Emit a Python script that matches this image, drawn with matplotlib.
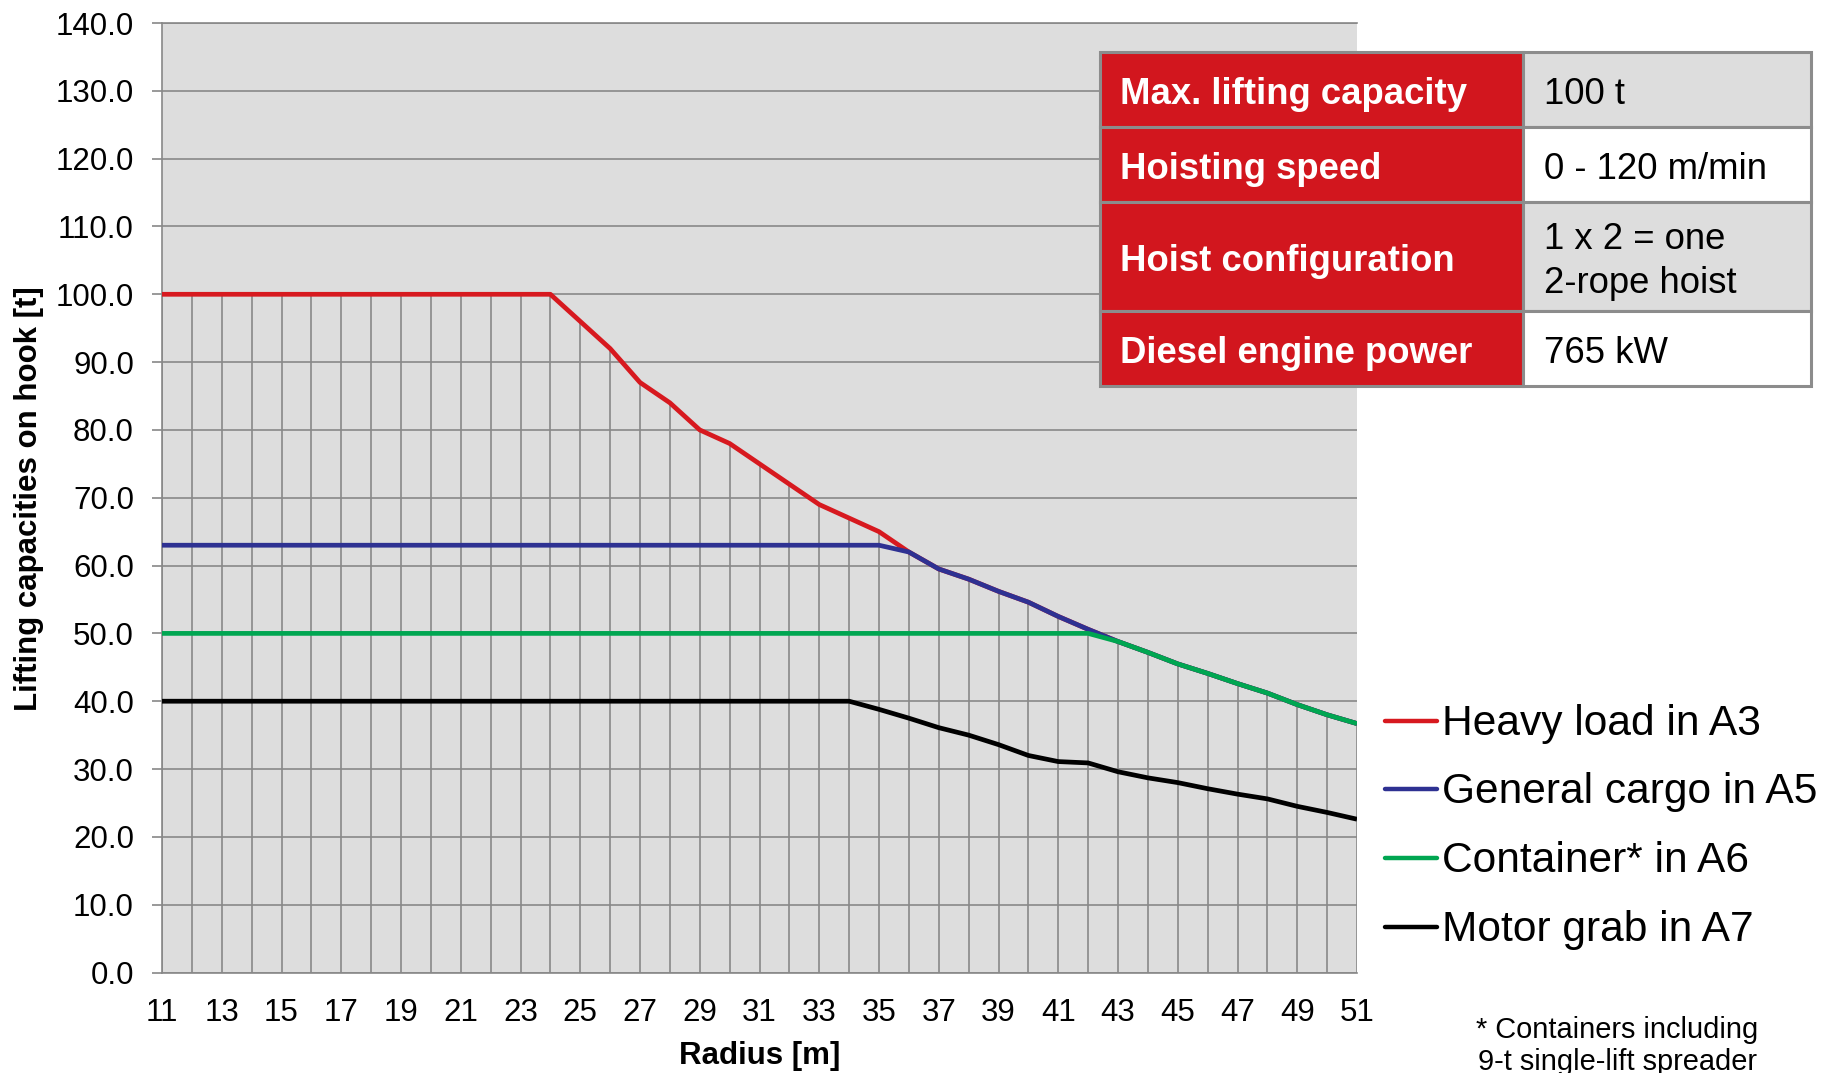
import matplotlib
matplotlib.use("Agg")
import matplotlib.pyplot as plt
from matplotlib.patches import Rectangle
from matplotlib.lines import Line2D

plt.rcParams['font.family'] = ['Liberation Sans', 'DejaVu Sans']

# ---------------- data ----------------
radius = [11, 12, 13, 14, 15, 16, 17, 18, 19, 20, 21, 22, 23, 24, 25, 26, 27, 28, 29, 30,
          31, 32, 33, 34, 35, 36, 37, 38, 39, 40, 41, 42, 43, 44, 45, 46, 47, 48, 49, 50, 51]

heavy_a3 = [100, 100, 100, 100, 100, 100, 100, 100, 100, 100, 100, 100, 100, 100,
            96, 92, 87, 84, 80, 78, 75, 72, 69, 67, 65, 62,
            59.5, 58, 56.2, 54.6, 52.5, 50.6,
            48.8, 47.2, 45.5, 44.1, 42.6, 41.2, 39.5, 38.0, 36.7]
general_a5 = [63, 63, 63, 63, 63, 63, 63, 63, 63, 63, 63, 63, 63, 63, 63, 63, 63, 63, 63, 63,
              63, 63, 63, 63, 63, 62,
              59.5, 58, 56.2, 54.6, 52.5, 50.6,
              48.8, 47.2, 45.5, 44.1, 42.6, 41.2, 39.5, 38.0, 36.7]
container_a6 = [50, 50, 50, 50, 50, 50, 50, 50, 50, 50, 50, 50, 50, 50, 50, 50, 50, 50, 50, 50,
                50, 50, 50, 50, 50, 50, 50, 50, 50, 50, 50, 50,
                48.8, 47.2, 45.5, 44.1, 42.6, 41.2, 39.5, 38.0, 36.7]
grab_a7 = [40, 40, 40, 40, 40, 40, 40, 40, 40, 40, 40, 40, 40, 40, 40, 40, 40, 40, 40, 40,
           40, 40, 40, 40, 38.8, 37.5, 36.1, 35.0, 33.6, 32.0, 31.1, 30.9, 29.6, 28.7, 28.0,
           27.1, 26.3, 25.6, 24.5, 23.6, 22.6]

series_labels = ["Heavy load in A3", "General cargo in A5", "Container* in A6", "Motor grab in A7"]
series_colors = ["#D7191F", "#2E3192", "#00A651", "#000000"]

x_ticks = [11, 13, 15, 17, 19, 21, 23, 25, 27, 29, 31, 33, 35, 37, 39, 41, 43, 45, 47, 49, 51]
y_ticks = [0, 10, 20, 30, 40, 50, 60, 70, 80, 90, 100, 110, 120, 130, 140]

table_keys = ["Max. lifting capacity", "Hoisting speed", "Hoist configuration", "Diesel engine power"]
table_vals = ["100 t", "0 - 120 m/min", "1 x 2 = one\n2-rope hoist", "765 kW"]

footnote = ["* Containers including", "9-t single-lift spreader"]

# ---------------- figure ----------------
W, H = 1826, 1073
fig = plt.figure(figsize=(W / 100, H / 100), dpi=100)

def fx(px):
    return px / W

def fy(py):
    return 1 - py / H

left, right, top, bottom = 162, 1357, 23, 972.5
ax = fig.add_axes([fx(left), fy(bottom), fx(right - left), fy(top) - fy(bottom)])
ax.set_facecolor("#DDDDDD")

grid_c = "#888888"
series = [heavy_a3, general_a5, container_a6, grab_a7]
envelope = [max(v) for v in zip(*series)]
ax.vlines(radius, 0, envelope, color=grid_c, lw=1.2, zorder=1)

for vals, lab, col in zip(series, series_labels, series_colors):
    ax.plot(radius, vals, color=col, lw=3.4, label=lab, zorder=3,
            solid_joinstyle='round', solid_capstyle='butt')

ax.set_xlim(11, 51)
ax.set_ylim(0, 140)
ax.set_xticks(x_ticks)
ax.set_xticklabels([str(t) for t in x_ticks])
ax.set_yticks(y_ticks)
ax.set_yticklabels([f"{t:.1f}" for t in y_ticks])
ax.yaxis.grid(True, color=grid_c, lw=1.2, zorder=0)
ax.set_axisbelow(True)

for s in ["right"]:
    ax.spines[s].set_visible(False)
for s in ["left", "bottom", "top"]:
    ax.spines[s].set_color(grid_c)
    ax.spines[s].set_linewidth(1.2)

ax.tick_params(axis='y', length=7.2, width=1.2, color=grid_c, pad=13, labelsize=22.5)
ax.tick_params(axis='x', length=0, pad=18.5, labelsize=22.5)

ax.set_xlabel("Radius [m]", fontsize=22.5, fontweight='bold', labelpad=9)
fig.text(fx(29), fy(499), "Lifting capacities on hook [t]", rotation=90,
         fontsize=22.5, fontweight='bold', ha='center', va='center')

# ---------------- legend ----------------
leg_y = [721, 789, 858, 927]
for lab, col, yy in zip(series_labels, series_colors, leg_y):
    fig.add_artist(Line2D([fx(1385), fx(1437)], [fy(yy), fy(yy)], color=col, lw=3.2,
                          solid_capstyle='round'))
    fig.text(fx(1442), fy(yy + 2.5), lab, fontsize=30.6, ha='left', va='center')

# ---------------- table ----------------
col_x = [1100, 1523, 1811]
row_y = [52, 127, 202, 311, 386]
val_bg = ["#DDDDDD", "#FFFFFF", "#DDDDDD", "#FFFFFF"]
border_c = "#8C8C8C"
for i, (k, v) in enumerate(zip(table_keys, table_vals)):
    y0, y1 = row_y[i], row_y[i + 1]
    fig.add_artist(Rectangle((fx(col_x[0]), fy(y1)), fx(col_x[1] - col_x[0]), fy(y0) - fy(y1),
                             facecolor="#D2161E", edgecolor=border_c, lw=2.2,
                             transform=fig.transFigure, zorder=5))
    fig.add_artist(Rectangle((fx(col_x[1]), fy(y1)), fx(col_x[2] - col_x[1]), fy(y0) - fy(y1),
                             facecolor=val_bg[i], edgecolor=border_c, lw=2.2,
                             transform=fig.transFigure, zorder=5))
    yc = (y0 + y1) / 2 + 5
    fig.text(fx(col_x[0] + 20), fy(yc), k, color="white", fontsize=26.3, fontweight='bold',
             ha='left', va='center', zorder=6)
    fig.text(fx(col_x[1] + 21), fy(yc), v, color="black", fontsize=26.3,
             ha='left', va='center', linespacing=1.33, zorder=6)

# ---------------- footnote ----------------
fig.text(fx(1617), fy(1029.5), footnote[0], fontsize=20.9, ha='center', va='center')
fig.text(fx(1617), fy(1062.5), footnote[1], fontsize=20.9, ha='center', va='center')

fig.savefig("out.png", dpi=100)
